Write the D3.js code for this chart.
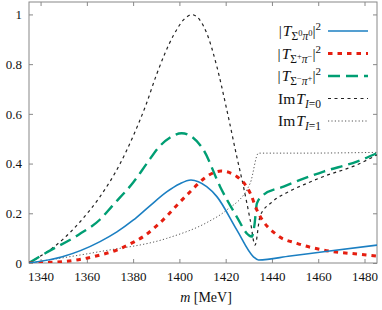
<!DOCTYPE html>
<html>
<head>
<meta charset="utf-8">
<script src="https://cdn.jsdelivr.net/npm/d3@7"></script>
<style>
  body { margin: 0; background: #fff; }
  svg text { font-family: "Liberation Serif", "DejaVu Serif", serif; fill: #111; }
</style>
</head>
<body>
<div id="chart"></div>
<script>
// [m in MeV, value]
const sigma0pi0 = [[1335,0],[1349.4,0.025],[1365.7,0.086],[1373,0.125],[1380,0.172],[1387,0.228],[1394.5,0.286],[1400,0.318],[1405,0.334],[1411.8,0.307],[1416.2,0.267],[1424.8,0.133],[1432,0.025],[1434.2,0.012],[1447.9,0.028],[1462.3,0.045],[1485.4,0.072]];
const sigmaPlusPiMinus = [[1335,0],[1349.4,0.005],[1365.7,0.032],[1372.9,0.052],[1380,0.083],[1385,0.11],[1390,0.148],[1395,0.193],[1400,0.243],[1405,0.29],[1410,0.335],[1414,0.36],[1418,0.37],[1424.8,0.348],[1430.6,0.281],[1433.5,0.213],[1442.1,0.113],[1450.8,0.079],[1462.3,0.052],[1476.7,0.036],[1485.4,0.028]];
const sigmaMinusPiPlus = [[1335,0],[1342.2,0.04],[1356.6,0.115],[1365.7,0.175],[1371,0.23],[1380.1,0.325],[1385.9,0.4],[1391,0.465],[1396,0.505],[1401,0.522],[1405,0.51],[1410.4,0.455],[1417.6,0.307],[1424.8,0.186],[1429.8,0.113],[1431.3,0.106],[1432.4,0.15],[1433.5,0.24],[1436.3,0.274],[1445,0.307],[1452.2,0.334],[1462.3,0.368],[1476.7,0.408],[1485.4,0.442]];
const imTI0 = [[1335,0],[1349.4,0.093],[1357,0.165],[1365.7,0.267],[1374.4,0.4],[1380,0.51],[1385.5,0.635],[1390.2,0.76],[1397.4,0.915],[1402,0.98],[1405.4,0.999],[1411.8,0.925],[1416.2,0.79],[1420.5,0.616],[1424.8,0.428],[1427.7,0.307],[1430.6,0.173],[1432.7,0.072],[1434.9,0.19],[1440,0.245],[1447.9,0.29],[1455,0.32],[1462.3,0.348],[1476.7,0.395],[1485.4,0.435]];
const imTI1 = [[1335,0],[1365.7,0.046],[1394.5,0.099],[1412.5,0.166],[1420,0.21],[1430.6,0.321],[1434.2,0.442],[1452.2,0.442],[1485.4,0.445]];

const xTicks = [1340,1360,1380,1400,1420,1440,1460,1480];
const yTicks = [0,0.2,0.4,0.6,0.8,1];

const width = 382, height = 310;
const margin = {top: 2, right: 5, bottom: 47, left: 29};

const svg = d3.select('#chart').append('svg')
    .attr('width', width).attr('height', height);

const x = d3.scaleLinear([1335, 1485.4], [margin.left, width - margin.right]);
const y = d3.scaleLinear([0, 1.05], [height - margin.bottom, margin.top]);

// clip so lines stay inside the frame
svg.append('clipPath').attr('id', 'clip').append('rect')
    .attr('x', margin.left).attr('y', margin.top)
    .attr('width', width - margin.left - margin.right)
    .attr('height', height - margin.top - margin.bottom);

// axes with inward ticks, mirrored on top/right
const axisStyle = g => {
    g.select('.domain').remove();
    g.selectAll('line').attr('stroke', '#888');
    g.selectAll('text').style('font-size', '13px').style('font-family', '"Liberation Serif", serif');
};
svg.append('g')
    .attr('transform', `translate(0,${height - margin.bottom})`)
    .call(d3.axisBottom(x).tickValues(xTicks).tickSizeInner(-4).tickSizeOuter(0).tickPadding(9).tickFormat(d3.format('d')))
    .call(axisStyle);
svg.append('g')
    .attr('transform', `translate(0,${margin.top})`)
    .call(d3.axisTop(x).tickValues(xTicks).tickSizeInner(-4).tickSizeOuter(0).tickFormat(''))
    .call(axisStyle);
svg.append('g')
    .attr('transform', `translate(${margin.left},0)`)
    .call(d3.axisLeft(y).tickValues(yTicks).tickSizeInner(-4).tickSizeOuter(0).tickPadding(7).tickFormat(d => d === 0 || d === 1 ? d : d3.format('.1f')(d)))
    .call(axisStyle);
svg.append('g')
    .attr('transform', `translate(${width - margin.right},0)`)
    .call(d3.axisRight(y).tickValues(yTicks).tickSizeInner(-4).tickSizeOuter(0).tickFormat(''))
    .call(axisStyle);

svg.append('rect')
    .attr('x', margin.left).attr('y', margin.top)
    .attr('width', width - margin.left - margin.right)
    .attr('height', height - margin.top - margin.bottom)
    .attr('fill', 'none').attr('stroke', '#888').attr('stroke-width', 1);

const series = [
    {data: imTI1, color: '#555', w: 1, dash: '1.2,2.2'},
    {data: imTI0, color: '#222', w: 1.2, dash: '3,3.5'},
    {data: sigmaMinusPiPlus, color: '#009e73', w: 2.4, dash: '12,6'},
    {data: sigmaPlusPiMinus, color: '#e51e10', w: 3, dash: '4.5,5'},
    {data: sigma0pi0, color: '#1b7fc2', w: 1.6, dash: null},
];

const line = d3.line().x(d => x(d[0])).y(d => y(d[1])).curve(d3.curveMonotoneX);
svg.append('g').attr('clip-path', 'url(#clip)')
    .selectAll('path').data(series).join('path')
    .attr('d', d => line(d.data))
    .attr('fill', 'none')
    .attr('stroke', d => d.color)
    .attr('stroke-width', d => d.w)
    .attr('stroke-dasharray', d => d.dash);

// legend
const legend = [
    {parts: [['|', ''], ['T', 'i'], ['Σ', 'sub'], ['0', 'subsup'], ['π', 'subi'], ['0', 'subsup'], ['|', ''], ['2', 'sup']], s: series[4]},
    {parts: [['|', ''], ['T', 'i'], ['Σ', 'sub'], ['+', 'subsup'], ['π', 'subi'], ['−', 'subsup'], ['|', ''], ['2', 'sup']], s: series[3]},
    {parts: [['|', ''], ['T', 'i'], ['Σ', 'sub'], ['−', 'subsup'], ['π', 'subi'], ['+', 'subsup'], ['|', ''], ['2', 'sup']], s: series[2]},
    {parts: [['Im', ''], ['T', 'i'], ['I', 'subi'], ['=0', 'sub']], s: series[1]},
    {parts: [['Im', ''], ['T', 'i'], ['I', 'subi'], ['=1', 'sub']], s: series[0]},
];
const lg = svg.append('g');
legend.forEach((item, i) => {
    const cy = 31 + i * 22.5;
    const t = lg.append('text')
        .attr('x', 321).attr('y', cy + 5)
        .attr('text-anchor', 'end')
        .style('font-size', '15.5px');
    item.parts.forEach(([txt, kind]) => {
        const sp = t.append('tspan').text(txt);
        if (kind === 'i' || kind === 'subi') sp.style('font-style', 'italic');
        if (kind === 'sub' || kind === 'subi') sp.style('font-size', '11.5px').attr('baseline-shift', '-3.5');
        if (kind === 'subsup') sp.style('font-size', '8.5px').attr('baseline-shift', '0.5');
        if (kind === 'sup') sp.style('font-size', '11px').attr('baseline-shift', '6');
        if (kind === 'i') sp.attr('dx', 1);
    });
    lg.append('line')
        .attr('x1', 328).attr('x2', 368).attr('y1', cy).attr('y2', cy)
        .attr('stroke', item.s.color)
        .attr('stroke-width', item.s.w)
        .attr('stroke-dasharray', item.s.dash);
});

// x label
const xl = svg.append('text')
    .attr('x', (margin.left + width - margin.right) / 2 + 3)
    .attr('y', 302)
    .attr('text-anchor', 'middle')
    .style('font-size', '14px');
xl.append('tspan').text('m').style('font-style', 'italic');
xl.append('tspan').text(' [MeV]');
</script>
</body>
</html>
